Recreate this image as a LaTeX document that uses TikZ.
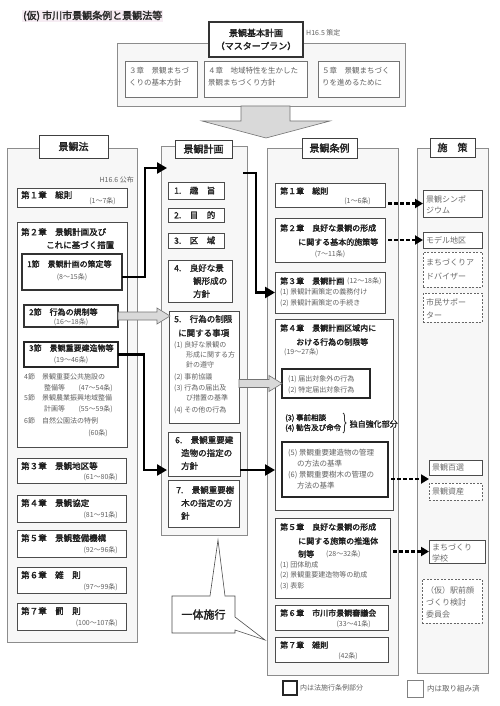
\documentclass[tikz,border=0pt]{standalone}
\usepackage{fontspec}
\setmainfont{Noto Sans CJK JP}[AutoFakeBold=2]
\usetikzlibrary{arrows.meta,decorations.pathreplacing,calc}
\definecolor{hl}{RGB}{246,236,243}
\newcommand\BX[6]{\node[#1,minimum width={(#4-#2)*1pt},minimum height={(#5-#3)*1pt}] (#6) at ({(#2+#4)/2},{(#3+#5)/2}) {};}
\tikzset{
  frame/.style={draw=black!45,line width=0.8pt,fill=black!3,inner sep=0pt,outer sep=0pt},
  bx/.style={draw=black!70,line width=0.6pt,fill=white,inner sep=0pt,outer sep=0pt},
  bbx/.style={draw=black!85,line width=1.6pt,fill=white,inner sep=0pt,outer sep=0pt},
  dbx/.style={draw=black!60,line width=0.8pt,dash pattern=on 2pt off 1.5pt,fill=white,inner sep=0pt,outer sep=0pt},
  titlebox/.style={draw=black!75,line width=0.9pt,fill=white,inner sep=0pt,outer sep=0pt},
  ttl/.style={font=\fontsize{10}{12}\selectfont\bfseries,text=black!88,inner sep=0pt},
  hL/.style={font=\fontsize{8.5}{10}\selectfont\bfseries,text=black!88,inner sep=0pt,anchor=west},
  hS/.style={font=\fontsize{8}{10}\selectfont\bfseries,text=black!88,inner sep=0pt,anchor=west},
  hM/.style={font=\fontsize{8.5}{10}\selectfont\bfseries,text=black!85,inner sep=0pt,anchor=west},
  lt/.style={font=\fontsize{7}{9}\selectfont,text=black!62,inner sep=0pt,anchor=west},
  ln/.style={font=\fontsize{7}{8}\selectfont,text=black!62,inner sep=0pt,anchor=west},
  lf/.style={font=\fontsize{8}{10}\selectfont,text=black!58,inner sep=0pt,anchor=west},
  blk/.style={draw=black,line width=2.6pt,line join=miter,-{Triangle[length=10pt,width=11pt]}},
  dotarr/.style={draw=black,line width=2.6pt,dash pattern=on 3.5pt off 2.5pt,shorten <=3pt,-{Triangle[length=8pt,width=9pt]}},
  garrow/.style={draw=black!55,line width=0.6pt,fill=black!15},
}
\begin{document}
\begin{tikzpicture}[x=1pt,y=-1pt]
\path[use as bounding box,fill=white] (0,0) rectangle (500,706);

% title
\node[font=\fontsize{10}{12}\selectfont\bfseries,text=black!85,inner sep=1pt,fill=hl,anchor=west] (maintitle) at (22,16) {(仮) 市川市景観条例と景観法等};

% ---------- master plan ----------
\BX{frame}{117}{43}{405}{106}{mp}
\draw[garrow] (241,106) -- (290,106) -- (290,121) -- (330,121) -- (266,138) -- (202,121) -- (241,121) -- cycle;
\BX{titlebox,draw=black!80,line width=1.1pt}{209}{22}{303}{57}{mpt}
\node[font=\fontsize{9}{13}\selectfont\bfseries,text=black!88,align=center,inner sep=0pt] (mptt) at (mpt) {景観基本計画\\（マスタープラン）};
\node[lt] (mph) at (306,33) {H16.5 策定};
\BX{bx,draw=black!55}{125}{61}{197}{97}{mp1}
\BX{bx,draw=black!55}{204}{61}{307}{97}{mp2}
\BX{bx,draw=black!55}{318}{61}{399}{97}{mp3}
\node[lt,font=\fontsize{7.5}{9}\selectfont] (mp1a) at (129,71) {３章　景観まちづ};
\node[lt,font=\fontsize{7.5}{9}\selectfont] (mp1b) at (129,83) {くりの基本方針};
\node[lt,font=\fontsize{7.5}{9}\selectfont] (mp2a) at (208,71) {４章　地域特性を生かした};
\node[lt,font=\fontsize{7.5}{9}\selectfont] (mp2b) at (208,83) {景観まちづくり方針};
\node[lt,font=\fontsize{7.5}{9}\selectfont] (mp3a) at (322,71) {５章　景観まちづく};
\node[lt,font=\fontsize{7.5}{9}\selectfont] (mp3b) at (322,83) {りを進めるために};

% ---------- column frames ----------
\BX{frame}{7}{148}{137}{642}{lawF}
\BX{frame}{161}{146}{247}{535}{planF}
\BX{frame}{267}{148}{398}{675}{ordF}
\BX{frame}{417}{148}{488}{673}{polF}

% ---------- 景観法 ----------
\BX{titlebox}{39}{135}{108}{158}{lawT}
\node[ttl] (lawTt) at (lawT) {景観法};
\node[lt,anchor=east] (lawH) at (134,180) {H16.6 公布};
\BX{bx}{17}{188}{127}{207}{L1}
\node[hL] (L1t) at (21,195) {第１章　総則};
\node[ln,anchor=east] (L1n) at (116,201) {(1～7条)};
\BX{bx}{17}{222}{127}{447}{L2}
\node[hL] (L2t1) at (21,232) {第２章　景観計画及び};
\node[hL] (L2t2) at (46,245) {これに基づく措置};
\BX{bx,line width=1.1pt,draw=black!80}{22}{254}{122}{290}{L2a}
\node[hS] (L2at) at (27,264) {1節　景観計画の策定等};
\node[ln,anchor=center] (L2an) at (72,277) {(8～15条)};
\BX{bx,line width=1.1pt,draw=black!80}{24}{305}{118}{327}{L2b}
\node[hS] (L2bt) at (29,312) {2節　行為の規制等};
\node[ln,anchor=center] (L2bn) at (71,322) {(16～18条)};
\BX{bbx}{24}{342}{118}{367}{L2c}
\node[hS] (L2ct) at (29,348) {3節　景観重要建造物等};
\node[ln,anchor=center] (L2cn) at (71,360) {(19～46条)};
\node[lt] (s4a) at (24,377) {4節　景観重要公共施設の};
\node[lt] (s4b) at (44,388) {整備等};
\node[lt,anchor=east] (s4c) at (113,388) {(47～54条)};
\node[lt] (s5a) at (24,398) {5節　景観農業振興地域整備};
\node[lt] (s5b) at (44,409) {計画等};
\node[lt,anchor=east] (s5c) at (113,409) {(55～59条)};
\node[lt] (s6a) at (24,421) {6節　自然公園法の特例};
\node[lt,anchor=east] (s6b) at (108,433) {(60条)};
\BX{bx}{17}{458}{126}{483}{L3}
\node[hL] (L3t) at (21,466) {第３章　景観地区等};
\node[ln,anchor=east] (L3n) at (118,477) {(61～80条)};
\BX{bx}{17}{495}{126}{522}{L4}
\node[hL] (L4t) at (21,503) {第４章　景観協定};
\node[ln,anchor=east] (L4n) at (118,515) {(81～91条)};
\BX{bx}{17}{530}{126}{557}{L5}
\node[hL] (L5t) at (21,538) {第５章　景観整備機構};
\node[ln,anchor=east] (L5n) at (118,550) {(92～96条)};
\BX{bx}{17}{567}{126}{593}{L6}
\node[hL] (L6t) at (21,575) {第６章　雑　則};
\node[ln,anchor=east] (L6n) at (118,587) {(97～99条)};
\BX{bx}{17}{603}{126}{630}{L7}
\node[hL] (L7t) at (21,611) {第７章　罰　則};
\node[ln,anchor=east] (L7n) at (118,623) {(100～107条)};

% ---------- 景観計画 ----------
\BX{titlebox}{175}{140}{232}{158}{planT}
\node[ttl] (planTt) at (planT) {景観計画};
\BX{bx}{168}{182}{224}{199}{P1}
\node[hM] (P1t) at (174,190.5) {1.　趣　旨};
\BX{bx}{168}{208}{224}{222}{P2}
\node[hM] (P2t) at (174,215) {2.　目　的};
\BX{bx}{168}{233}{224}{248}{P3}
\node[hM] (P3t) at (174,240.5) {3.　区　域};
\BX{bx}{168}{260}{232}{302}{P4}
\node[hM] (P4a) at (174,268) {4.　良好な景};
\node[hM] (P4b) at (193,281) {観形成の};
\node[hM] (P4c) at (193,294) {方針};
\BX{bx}{169}{311}{239}{423}{P5}
\node[hM] (P5a) at (174,319) {5.　行為の制限};
\node[hM] (P5b) at (178,333) {に関する事項};
\node[lt] (P5c) at (174,345) {(1) 良好な景観の};
\node[lt] (P5d) at (186,355) {形成に関する方};
\node[lt] (P5e) at (186,365) {針の遵守};
\node[lt] (P5f) at (174,377) {(2) 事前協議};
\node[lt] (P5g) at (174,388) {(3) 行為の届出及};
\node[lt] (P5h) at (186,398) {び措置の基準};
\node[lt] (P5i) at (174,410) {(4) その他の行為};
\BX{bx}{168}{432}{240}{476}{P6}
\node[hM] (P6a) at (175,440) {6.　景観重要建};
\node[hM] (P6b) at (181,453) {造物の指定の};
\node[hM] (P6c) at (181,466) {方針};
\BX{bx}{168}{480}{239}{527}{P7}
\node[hM] (P7a) at (176,490) {7.　景観重要樹};
\node[hM] (P7b) at (181,503) {木の指定の方};
\node[hM] (P7c) at (181,516) {針};

% callout
\draw[draw=black!70,line width=0.6pt,fill=white] (172,596) -- (210,596) -- (218,540) -- (225,596) -- (235,596) -- (235,617) -- (265,640) -- (235,630) -- (235,633) -- (172,633) -- cycle;
\node[font=\fontsize{11}{13}\selectfont\bfseries,text=black!88,inner sep=0pt] (ittai) at (203.5,614.5) {一体施行};

% ---------- 景観条例 ----------
\BX{titlebox}{302}{138}{357}{158}{ordT}
\node[ttl] (ordTt) at (ordT) {景観条例};
\BX{bx}{275}{183}{385}{207}{R1}
\node[hS] (R1t) at (280,191) {第１章　総則};
\node[ln,anchor=east] (R1n) at (371,201) {(1～6条)};
\BX{bx}{275}{218}{385}{262}{R2}
\node[hS] (R2a) at (280,228) {第２章　良好な景観の形成};
\node[hS] (R2b) at (298,242) {に関する基本的施策等};
\node[ln,anchor=center] (R2n) at (330,254) {(7～11条)};
\BX{bx}{275}{272}{385}{313}{R3}
\node[hS] (R3a) at (280,281) {第３章　景観計画};
\node[ln] (R3n) at (347,281) {(12～18条)};
\node[ln] (R3b) at (280,292) {(1) 景観計画策定の義務付け};
\node[ln] (R3c) at (280,303) {(2) 景観計画策定の手続き};
\BX{bx}{275}{319}{393}{510}{R4}
\node[hS] (R4a1) at (280,328) {第４章　景観計画区域内に};
\node[hS] (R4a2) at (296,342) {おける行為の制限等};
\node[ln] (R4n) at (284,352) {(19～27条)};
\BX{bbx}{282}{369}{370}{398}{R4a}
\node[lt] (R4a_1) at (288,379) {(1) 届出対象外の行為};
\node[lt] (R4a_2) at (288,390) {(2) 特定届出対象行為};
\node[hS,font=\fontsize{7.5}{9}\selectfont\bfseries] (R4c3) at (285,418) {(3) 事前相談};
\node[hS,font=\fontsize{7.5}{9}\selectfont\bfseries] (R4c4) at (285,428) {(4) 勧告及び命令};
\draw[decorate,decoration={brace,amplitude=3pt},line width=0.8pt,black!80] (343,413) -- (343,433);
\node[hS,fill=white,inner sep=0.5pt] (dokuji) at (349,424) {独自強化部分};
\BX{bbx}{282}{442}{388}{497}{R4b}
\node[lt,font=\fontsize{7.5}{9}\selectfont] (R4b_1) at (288,453) {(5) 景観重要建造物の管理};
\node[lt,font=\fontsize{7.5}{9}\selectfont] (R4b_2) at (297,464) {の方法の基準};
\node[lt,font=\fontsize{7.5}{9}\selectfont] (R4b_3) at (288,475) {(6) 景観重要樹木の管理の};
\node[lt,font=\fontsize{7.5}{9}\selectfont] (R4b_4) at (297,486) {方法の基準};
\BX{bx}{275}{518}{390}{598}{R5}
\node[hS] (R5a) at (280,527) {第５章　良好な景観の形成};
\node[hS] (R5b) at (298,541) {に関する施策の推進体};
\node[hS] (R5c) at (298,554) {制等};
\node[ln] (R5n) at (326,554) {(28～32条)};
\node[ln] (R5d) at (280,565) {(1) 団体助成};
\node[ln] (R5e) at (280,575) {(2) 景観重要建造物等の助成};
\node[ln] (R5f) at (280,586) {(3) 表彰};
\BX{bx}{275}{605}{388}{630}{R6}
\node[hS] (R6t) at (280,613) {第６章　市川市景観審議会};
\node[ln,anchor=east] (R6n) at (371,624) {(33～41条)};
\BX{bx}{275}{637}{388}{662}{R7}
\node[hS] (R7t) at (280,645) {第７章　雑則};
\node[ln,anchor=east] (R7n) at (358,656) {(42条)};
\BX{bx,line width=2pt,draw=black!85}{283}{681}{297}{695}{lg1}
\node[lt] (lg1t) at (300,688) {内は法施行条例部分};

% ---------- 施策 ----------
\BX{titlebox}{430}{138}{475}{157}{polT}
\node[ttl] (polTt) at (polT) {施　策};
\BX{bx}{423}{190}{482}{217}{S1}
\node[lf] (S1a) at (426,199) {景観シンポ};
\node[lf] (S1b) at (426,210) {ジウム};
\BX{bx}{423}{232}{482}{248}{S2}
\node[lf] (S2a) at (426,240) {モデル地区};
\BX{dbx}{423}{252}{482}{287}{S3}
\node[lf] (S3a) at (426,262) {まちづくりア};
\node[lf] (S3b) at (426,276) {ドバイザー};
\BX{dbx}{423}{293}{482}{322}{S4}
\node[lf] (S4a) at (426,302) {市民サポー};
\node[lf] (S4b) at (426,315) {ター};
\BX{bx}{429}{460}{482}{475}{S5}
\node[lf] (S5a) at (432,467.5) {景観百選};
\BX{dbx}{429}{483}{482}{500}{S6}
\node[lf] (S6a) at (432,491.5) {景観資産};
\BX{bx}{429}{540}{485}{563}{S7}
\node[lf] (S7a) at (432,547) {まちづくり};
\node[lf] (S7b) at (432,558) {学校};
\BX{dbx}{422}{579}{482}{623}{S8}
\node[lf] (S8a) at (426,590) {（仮）駅前顔};
\node[lf] (S8b) at (426,602) {づくり検討};
\node[lf] (S8c) at (426,614) {委員会};
\BX{bx,draw=black!50}{407}{680}{423}{697}{lg2}
\node[lt,font=\fontsize{7.5}{9}\selectfont] (lg2t) at (427,689) {内は取り組み済};

% ---------- arrows ----------
\coordinate (a1e) at (167,168);
\draw[blk] ([yshift=-5pt]L2a.east) -- ++(23,0) |- (a1e);
\coordinate (a2s) at (243,173);
\draw[blk] (a2s) -- ++(13,0) |- (R3.west);
\coordinate (a5e) at (167,470);
\draw[blk] (L2c.east) -- ++(26,0) |- (a5e);
\draw[blk] (P6.east |- a5e) -- (R4.west |- a5e);

\draw[garrow] (L2b.east) ++(0,-4) -- ++(39,0) -- ++(0,-4) -- ++(13,8) -- ++(-13,8) -- ++(0,-4) -- ++(-39,0) -- cycle;
\draw[garrow] (P5.east |- R4a.west) ++(0,-4) -- ++(30,0) -- ++(0,-4) -- ++(13,8) -- ++(-13,8) -- ++(0,-4) -- ++(-30,0) -- cycle;

\draw[dotarr] (R1.east |- S1.west) -- (S1.west);
\draw[dotarr] (R2.east |- S2.west) -- (S2.west);
\coordinate (d3e) at ($(S5.south west)!0.5!(S6.north west)$);
\draw[dotarr] (R4b.east |- d3e) -- (d3e);
\draw[dotarr] (R5.east |- S7.west) -- (S7.west);
\end{tikzpicture}
\end{document}
